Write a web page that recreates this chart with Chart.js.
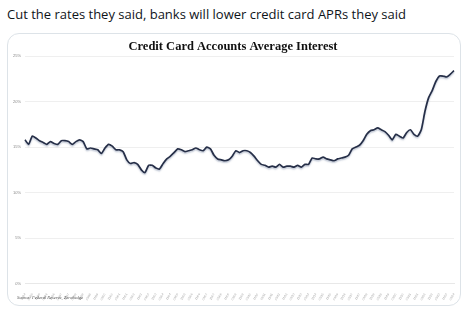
<!DOCTYPE html>
<html>
<head>
<meta charset="utf-8">
<script src="https://cdn.jsdelivr.net/npm/chart.js@4"></script>
<style>
  html, body { margin: 0; padding: 0; background: #fff; }
  body { width: 467px; height: 310px; position: relative; overflow: hidden; font-family: "Open Sans", "DejaVu Sans", sans-serif; }
  .tweet { position: absolute; left: 7px; top: 5px; font-size: 13px; color: #0f1419; white-space: nowrap; }
  .card { position: absolute; left: 7px; top: 33px; width: 452px; height: 271px; border: 1px solid #dde3e8; border-radius: 12px; overflow: hidden; }
  .wrap { position: absolute; left: 0; top: 0; width: 452px; height: 268px; }
  .source { position: absolute; left: 9px; top: 261px; font-family: "Liberation Serif", serif; font-style: italic; font-size: 4.5px; color: #555; }
</style>
</head>
<body>
<div class="tweet">Cut the rates they said, banks will lower credit card APRs they said</div>
<div class="card">
  <div class="wrap"><canvas id="chart"></canvas></div>
  <div class="source">Source: Federal Reserve, Zerohedge</div>
</div>
<script>
// ============================================================
// DATA — quarterly, 1994 Q4 .. 2024 Q2
// ============================================================
const quarters = [];
for (let y = 1994; y <= 2024; y++) {
  ['02', '05', '08', '11'].forEach(function (m) {
    if (y === 1994 && m !== '11') return;
    if (y === 2024 && (m === '08' || m === '11')) return;
    quarters.push(m + '/' + String(y).slice(2));
  });
}

const avgInterest = [
  15.8, 15.3, 16.2, 16.0, 15.7, 15.5, 15.3, 15.6, 15.4, 15.3,
  15.7, 15.7, 15.6, 15.3, 15.6, 15.8, 15.6, 14.8, 14.9, 14.8,
  14.7, 14.3, 14.9, 15.3, 15.1, 14.7, 14.7, 14.5, 13.6, 13.2,
  13.3, 13.1, 12.5, 12.2, 13.0, 13.0, 12.7, 12.6, 13.2, 13.7,
  14.0, 14.4, 14.8, 14.7, 14.5, 14.6, 14.7, 14.9, 14.7, 14.6,
  15.0, 14.8, 14.1, 13.7, 13.6, 13.5, 13.6, 14.0, 14.6, 14.4,
  14.6, 14.6, 14.4, 14.0, 13.5, 13.1, 13.0, 12.8, 12.9, 12.8,
  13.1, 12.8, 12.9, 12.9, 12.8, 13.0, 12.8, 13.1, 13.1, 13.8,
  13.7, 13.7, 13.9, 13.7, 13.6, 13.5, 13.7, 13.8, 13.9, 14.1,
  14.8, 15.0, 15.2, 15.7, 16.4, 16.8, 16.9, 17.1, 16.9, 16.7,
  16.3, 15.8, 16.4, 16.2, 16.0, 16.6, 16.9, 16.4, 16.2, 16.9,
  18.9, 20.4, 21.2, 22.2, 22.8, 22.8, 22.7, 23.0, 23.4
];

const yTicks = [0, 5, 10, 15, 20, 25];

// soft shadow under the line, like the original
const lineShadow = {
  id: 'lineShadow',
  beforeDatasetsDraw: function (chart) {
    const c = chart.ctx;
    c.save();
    c.shadowColor = 'rgba(70,90,130,0.35)';
    c.shadowBlur = 1.5;
    c.shadowOffsetY = 1.5;
  },
  afterDatasetsDraw: function (chart) {
    chart.ctx.restore();
  }
};

const ctx = document.getElementById('chart').getContext('2d');
new Chart(ctx, {
  type: 'line',
  data: {
    labels: quarters,
    datasets: [{
      label: 'Average Interest',
      data: avgInterest,
      borderColor: '#262f48',
      borderWidth: 1.7,
      pointRadius: 0,
      tension: 0.2,
      fill: false
    }]
  },
  plugins: [lineShadow],
  options: {
    responsive: true,
    maintainAspectRatio: false,
    animation: false,
    layout: { padding: { left: 4, right: 6, top: 4, bottom: 0 } },
    plugins: {
      legend: { display: false },
      tooltip: { enabled: false },
      title: {
        display: true,
        text: 'Credit Card Accounts Average Interest',
        color: '#111',
        font: { family: "'Liberation Serif', serif", size: 12.5, weight: 'bold' },
        padding: { top: 1, bottom: 2 }
      }
    },
    scales: {
      x: {
        grid: { display: false },
        border: { color: '#e8e8e8' },
        ticks: {
          color: '#a0a0a0',
          font: { size: 3 },
          minRotation: 60,
          maxRotation: 60,
          autoSkip: true,
          autoSkipPadding: 0,
          padding: 1
        }
      },
      y: {
        min: 0,
        max: 25,
        afterBuildTicks: function (axis) {
          axis.ticks = yTicks.map(function (v) { return { value: v }; });
        },
        afterFit: function (axis) { axis.width = 13; },
        grid: { color: '#efefef', drawTicks: false },
        border: { display: false },
        ticks: {
          color: '#888',
          font: { size: 4 },
          padding: 4,
          callback: function (v) { return v + '%'; }
        }
      }
    }
  }
});
</script>
</body>
</html>
